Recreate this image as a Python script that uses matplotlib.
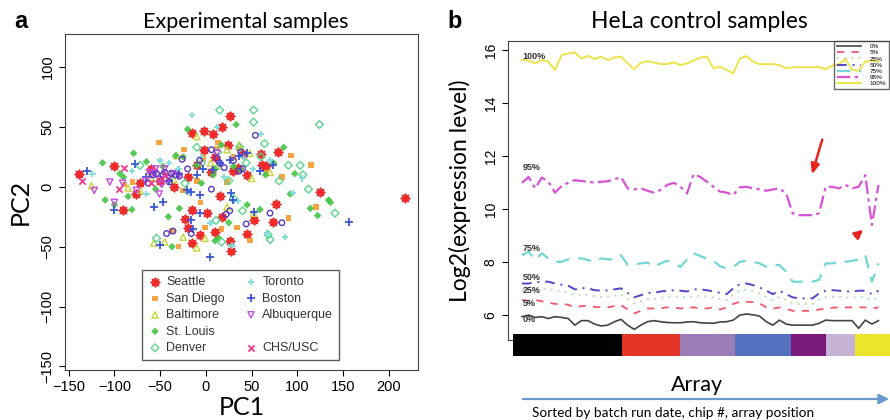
import numpy as np
import matplotlib
matplotlib.use("Agg")
import matplotlib.pyplot as plt
from matplotlib.lines import Line2D
from matplotlib.patches import FancyArrowPatch

seattle_x = [-139, -100, -91, -76, -15, -2, 8, 18, 26, -2, 10, 24, 30, 41, 60, 61, 66, 79, 125, 218,
             15, -15, -23, -20, -15, 1, -7, 10, 18, 26, 27, 45, 53, 76, 73, -50, -72, -35, -20, -10, 5, 35, 45, -60]
seattle_y = [11, 17, -19, -6, 45, 47, 44, 50, 59, 31, 25, 35, 13, 27, 27, 18, 17, 29, -4, -9,
             -8, -19, -27, -34, -47, -22, -40, -38, -25, -45, -54, -39, -28, -14, -29, 5, 3, 0, 8, 18, 12, 16, 10, 15]
sandiego_x = [-51, -24, -3, 13, 23, -6, -1, -30, -37, 17, 34, 48, 83, 93, 115, 120, 90, -80, -89, -25, 12, 36, 66, 30, -10]
sandiego_y = [37, 31, 24, 37, 4, -13, -34, -50, -37, -35, -34, -45, 8, 26, 18, -17, -26, 4, 2, -3, 32, 32, 12, 25, 5]
baltimore_x = [-10, 36, -125, -85, -72, -57, -45, -10, -1, -25, 23, 52, 50, 70, 23, 12, -32, -35, 48, -60, 5]
baltimore_y = [42, 35, 1, -1, -3, -47, -46, -51, -43, -42, -17, -22, 7, 12, 31, 17, 26, 6, 28, 8, 20]
stlouis_x = [-113, -110, -100, -94, -90, -81, -79, -85, -65, -47, -33, -41, -37, -29, -20, -10, 10, 14, 17, 30,
             33, 38, 45, 59, 74, 85, 92, 97, 114, 122, 134, 136, 65, 8, -5, -25, -55, 25, 10]
stlouis_y = [20, -11, -15, 11, 8, -19, 28, -8, 21, 17, 26, -25, -50, -18, 48, 18, -45, -43, 35, 17,
             52, 14, -15, -19, 20, 33, -6, 11, -18, -24, -11, -13, 10, 10, 3, 25, -2, -30, 15]
denver_x = [15, 52, 52, 124, -10, 13, 37, 64, 90, 103, 106, 112, 141, 70, 11, 17, -54, -23, -72, 44, 80, 68, 30, -5, -40, 40, 60, 25]
denver_y = [64, 64, 54, 52, 33, 29, 33, 36, 18, 18, 10, -2, -22, -44, -28, -46, -43, 3, 18, 20, 5, -40, -10, 20, 8, -20, 25, 5]
toronto_x = [-15, 12, 60, -81, -124, -65, -40, -20, 28, 67, 86, 95, 105, 51, 20, 40, 70, -5, 5, -50, -30, 35]
toronto_y = [60, 50, 44, 13, 11, -6, 20, -5, -49, -39, -42, -5, 7, 15, 8, 25, 22, 25, -30, 22, 15, -12]
boston_x = [-130, -100, -78, -57, -47, -50, -21, -16, -7, -7, 4, -3, 26, 27, 36, 59, 73, 156, -29, 8, 30, -16, -14, 52, -40, -10, 15, 45, -65]
boston_y = [13, -19, 19, -17, -13, -49, -3, -4, -7, -22, -59, 15, 22, -5, 26, 13, 18, -29, 11, 14, -11, -28, -35, -21, 5, 10, 20, 28, 8]
albuq_x = [-122, -105, -100, -91, -76, -60, -56, -51, -51, -41, -36, 12, -45, -62, -66, -48, -30, -55]
albuq_y = [-3, 4, -13, 3, -3, 10, 11, 6, -6, 7, 11, 28, 15, 12, 5, 2, 9, 15]
unnamed_x = [-63, -54, -47, -38, -29, -26, 6, 15, 36, 38, 54, 70, 83, 44, 26, 6, -16, -43, -7, -45, -40, -33, -20, 20, 30, 40, 22, -58, -36, 12]
unnamed_y = [3, 11, 10, 11, 9, 23, 31, 20, 13, 29, 43, -22, -30, -31, -20, -2, -39, -39, 22, 12, 4, 10, 15, 16, 22, 15, -23, 10, -37, 24]
chs_x = [-135, -89, -60, -45, -95]
chs_y = [5, 16, 3, 10, -2]

# ---- panel b: HeLa control quantiles per array ----
q100 = [15.62, 15.60, 15.50, 15.62, 15.56, 15.25, 15.81, 15.87, 15.91, 15.68, 15.78, 15.66, 15.75, 15.62,
        15.72, 15.75, 15.50, 15.27, 15.52, 15.58, 15.52, 15.47, 15.47, 15.53, 15.43, 15.50, 15.60, 15.72,
        15.75, 15.31, 15.37, 15.25, 15.12, 15.68, 15.77, 15.56, 15.46, 15.47, 15.47, 15.43, 15.31, 15.35,
        15.35, 15.35, 15.35, 15.35, 15.28, 15.40, 15.47, 15.66, 15.25, 15.22, 15.56, 15.60, 15.56]
q95 = [10.99, 11.21, 10.78, 11.19, 11.03, 10.62, 10.87, 10.99, 11.09, 11.06, 11.03, 11.00, 11.03, 11.05,
       11.12, 11.21, 10.78, 10.74, 10.78, 10.69, 10.62, 10.72, 10.91, 10.99, 10.84, 10.59, 11.32, 11.21,
       11.03, 10.84, 10.66, 10.62, 10.53, 10.82, 10.84, 10.78, 10.74, 10.69, 10.74, 10.78, 10.59, 9.84,
       9.77, 9.77, 9.77, 9.84, 10.84, 10.84, 10.78, 10.91, 10.78, 10.84, 11.28, 9.40, 10.91]
q75 = [8.26, 8.39, 8.08, 8.33, 8.14, 8.01, 8.01, 8.10, 8.14, 8.14, 8.08, 8.01, 8.14, 8.10, 8.10, 8.26,
       7.89, 7.92, 7.95, 7.98, 7.82, 7.95, 8.05, 7.95, 7.82, 8.10, 8.33, 8.23, 8.13, 8.05, 7.84, 7.76,
       7.82, 8.01, 8.05, 8.01, 7.95, 7.82, 7.89, 7.89, 7.64, 7.26, 7.26, 7.26, 7.26, 7.33, 7.95, 7.95,
       7.99, 8.01, 8.05, 8.10, 8.26, 7.26, 7.95]
q50 = [7.19, 7.19, 7.24, 7.26, 7.26, 7.19, 7.15, 7.11, 6.97, 7.02, 7.01, 6.94, 6.92, 6.93, 6.97, 7.01,
       6.84, 6.67, 6.75, 6.84, 6.84, 6.89, 6.92, 6.94, 6.92, 6.89, 6.97, 6.97, 6.94, 6.89, 6.84, 6.79,
       7.01, 7.17, 7.19, 7.13, 7.04, 6.92, 6.79, 6.92, 6.79, 6.67, 6.63, 6.63, 6.63, 6.82, 6.92, 6.94,
       6.92, 6.89, 6.89, 6.92, 6.92, 6.79, 6.92]
q25 = [6.95, 6.93, 6.98, 7.00, 6.99, 6.94, 6.90, 6.86, 6.74, 6.78, 6.76, 6.71, 6.69, 6.70, 6.73, 6.77,
       6.60, 6.44, 6.52, 6.60, 6.61, 6.65, 6.68, 6.70, 6.68, 6.66, 6.72, 6.73, 6.70, 6.65, 6.60, 6.56,
       6.77, 6.93, 6.95, 6.90, 6.80, 6.68, 6.56, 6.68, 6.56, 6.45, 6.42, 6.42, 6.42, 6.58, 6.68, 6.70,
       6.68, 6.66, 6.66, 6.68, 6.68, 6.56, 6.68]
q5 = [6.57, 6.54, 6.57, 6.52, 6.47, 6.42, 6.42, 6.39, 6.29, 6.34, 6.34, 6.31, 6.29, 6.29, 6.34, 6.38,
      6.21, 6.06, 6.16, 6.25, 6.25, 6.26, 6.29, 6.28, 6.25, 6.28, 6.29, 6.26, 6.25, 6.29, 6.21, 6.29,
      6.42, 6.50, 6.50, 6.49, 6.44, 6.29, 6.24, 6.29, 6.24, 6.16, 6.16, 6.16, 6.16, 6.21, 6.25, 6.28,
      6.29, 6.29, 6.29, 6.29, 6.29, 6.25, 6.29]
q0 = [5.94, 6.00, 5.91, 5.94, 5.87, 5.94, 5.91, 5.87, 5.62, 5.79, 5.79, 5.66, 5.59, 5.62, 5.75, 5.84,
      5.62, 5.46, 5.62, 5.75, 5.79, 5.75, 5.72, 5.71, 5.71, 5.74, 5.75, 5.71, 5.70, 5.69, 5.74, 5.75,
      5.81, 6.00, 6.04, 6.01, 5.96, 5.75, 5.62, 5.81, 5.66, 5.62, 5.62, 5.62, 5.62, 5.69, 5.81, 5.79,
      5.79, 5.79, 5.79, 5.50, 5.81, 5.66, 5.79]
quant_labels = ["0%", "5%", "25%", "50%", "75%", "95%", "100%"]
quant_label_y = [5.85, 6.42, 6.94, 7.43, 8.53, 11.55, 15.74]
batch_sizes = [16.6, 8.8, 8.2, 8.6, 5.3, 4.4, 6.5]
batch_colors = ["#000000", "#e23526", "#9a7cb6", "#5471c0", "#7a1b7c", "#c6b3d6", "#ede42c"]

plt.rcParams["font.family"] = ["Liberation Sans", "DejaVu Sans"]
fig = plt.figure(figsize=(8.9, 4.2), dpi=100)

# ---------- panel a ----------
ax = fig.add_axes([0.073, 0.119, 0.397, 0.80])
groups = [
    ("Seattle", seattle_x, seattle_y, "#ee2a2a", (8, 2, 0), 34, False),
    ("San Diego", sandiego_x, sandiego_y, "#f59a30", "s", 16, False),
    ("Baltimore", baltimore_x, baltimore_y, "#c5d63a", "^", 20, True),
    ("St. Louis", stlouis_x, stlouis_y, "#44c444", "D", 15, False),
    ("Denver", denver_x, denver_y, "#5cd68c", "D", 16, True),
    ("Toronto", toronto_x, toronto_y, "#7adcdc", "P", 20, False),
    ("Boston", boston_x, boston_y, "#3a58d4", "+", 36, False),
    ("Albuquerque", albuq_x, albuq_y, "#c64ae0", "v", 20, True),
    ("", unnamed_x, unnamed_y, "#5838c2", "o", 16, True),
    ("CHS/USC", chs_x, chs_y, "#f03a88", "x", 20, False),
]
handles = {}
for name, xs, ys, col, mk, sz, hollow in groups:
    if hollow:
        h = ax.scatter(xs, ys, s=sz, marker=mk, facecolors="none", edgecolors=col, linewidths=1.0)
    elif mk in ("+", "x", (8, 2, 0)):
        h = ax.scatter(xs, ys, s=sz, marker=mk, color=col, linewidths=1.3)
    else:
        h = ax.scatter(xs, ys, s=sz, marker=mk, color=col, edgecolors="none", alpha=0.9)
    handles[name] = h

ax.set_xlim(-154, 232)
ax.set_ylim(-153, 127.6)
ax.set_xticks([-150, -100, -50, 0, 50, 100, 150, 200])
ax.set_yticks([-150, -100, -50, 0, 50, 100])
ax.tick_params(direction="out", length=4, labelsize=10.5, width=0.8)
for t in ax.get_yticklabels():
    t.set_rotation(90)
    t.set_va("center")
for s in ax.spines.values():
    s.set_color("#444444")
ax.set_xlabel("PC1", fontsize=18, family="Lato", labelpad=1)
ax.set_ylabel("PC2", fontsize=18, family="Lato", labelpad=6)

blank = Line2D([], [], linestyle="none", marker=None)
order = ["Seattle", "San Diego", "Baltimore", "St. Louis", "Denver",
         "Toronto", "Boston", "Albuquerque", None, "CHS/USC"]
leg_h = [handles[k] if k else blank for k in order]
leg_l = [k if k else " " for k in order]
leg = ax.legend(leg_h, leg_l, ncol=2, loc="lower left", bbox_to_anchor=(0.2, 0.012),
                fontsize=9, frameon=True, fancybox=False, edgecolor="#333333",
                labelspacing=0.36, handletextpad=0.3, columnspacing=1.5,
                handlelength=1.2, borderpad=0.45)
leg.get_frame().set_linewidth(1.0)
for t in leg.get_texts():
    t.set_color("#333333")

fig.text(246 / 890, 1 - 28 / 420, "Experimental samples", fontsize=15.5, family="Lato",
         ha="center", va="baseline")
fig.text(14 / 890, 1 - 28 / 420, "a", fontsize=17, weight="bold", ha="left", va="baseline")

# ---------- panel b ----------
bx = fig.add_axes([508 / 890, 80 / 420, 387 / 890, 299 / 420])
idx = np.arange(len(q100))
styles = [
    (q0, "#444444", "-", 1.2),
    (q5, "#f2586a", (0, (4, 4)), 1.3),
    (q25, "#a8e0a8", (0, (1, 3)), 1.3),
    (q50, "#5546c8", (0, (5, 3, 1, 3)), 1.4),
    (q75, "#74d6d6", (0, (6, 4)), 1.6),
    (q95, "#d653d6", (0, (6, 2, 1.5, 2)), 1.6),
    (q100, "#eee44a", "-", 1.4),
]
for (vals, col, ls, lw), lab, ly in zip(styles, quant_labels, quant_label_y):
    bx.plot(idx, vals, color=col, linestyle=ls, linewidth=lw, label=lab)
    bx.text(idx[0] + 0.1, ly, lab, fontsize=6.5, color="#333333", ha="left", va="center",
            weight="bold")

bx.set_xlim(-2.12, 56.5)
bx.set_ylim(5.06, 16.34)
bx.set_yticks([6, 8, 10, 12, 14, 16])
bx.set_xticks([])
bx.tick_params(direction="out", length=4, labelsize=10, width=0.8)
for t in bx.get_yticklabels():
    t.set_rotation(90)
    t.set_va("center")
for s in bx.spines.values():
    s.set_color("#444444")
bx.set_ylabel("Log2(expression level)", fontsize=16.5, family="Lato", labelpad=9)
lg = fig.legend(*bx.get_legend_handles_labels(), loc="upper right",
                bbox_to_anchor=(889 / 890, 1 - 41 / 420), borderaxespad=0, fontsize=4.6,
                frameon=True, fancybox=False, edgecolor="#444444", labelspacing=0.12,
                handlelength=3.8, handletextpad=1.4, borderpad=0.4)
lg.get_frame().set_facecolor("none")
lg.get_frame().set_linewidth(1.0)

bx.annotate("", xy=(43.8, 11.21), xytext=(45.6, 12.72),
            arrowprops=dict(arrowstyle="-|>,head_length=0.6,head_width=0.25", color="#e8231c", lw=1.8))
bx.annotate("", xy=(52.0, 9.28), xytext=(50.2, 8.91),
            arrowprops=dict(arrowstyle="-|>,head_length=0.5,head_width=0.25", color="#e8231c", lw=1.8))

# batch colour strip
cx = fig.add_axes([508 / 890, 64 / 420, 387 / 890, 22 / 420])
lefts = np.concatenate([[0], np.cumsum(batch_sizes)[:-1]]) - 1.4
cx.barh(0, batch_sizes, left=lefts, height=1, color=batch_colors, edgecolor="none")
cx.set_xlim(-2.12, 56.5)
cx.set_ylim(-0.5, 0.5)
cx.axis("off")

fig.text(697 / 890, 1 - 385 / 420, "Array", fontsize=15.5, family="Lato", ha="center", va="center")
fig.add_artist(FancyArrowPatch((520 / 890, 1 - 399 / 420), (892 / 890, 1 - 399 / 420),
                               transform=fig.transFigure, arrowstyle="-|>,head_length=6,head_width=3",
                               color="#6a9bd0", lw=1.6, mutation_scale=1))
fig.text(532 / 890, 1 - 413 / 420, "Sorted by batch run date, chip #, array position",
         fontsize=9.8, family="Lato", ha="left", va="center")
fig.text(699 / 890, 1 - 28 / 420, "HeLa control samples", fontsize=16.5, family="Lato",
         ha="center", va="baseline")
fig.text(447 / 890, 1 - 28 / 420, "b", fontsize=17, weight="bold", ha="left", va="baseline")

fig.savefig("out.png", dpi=100)
